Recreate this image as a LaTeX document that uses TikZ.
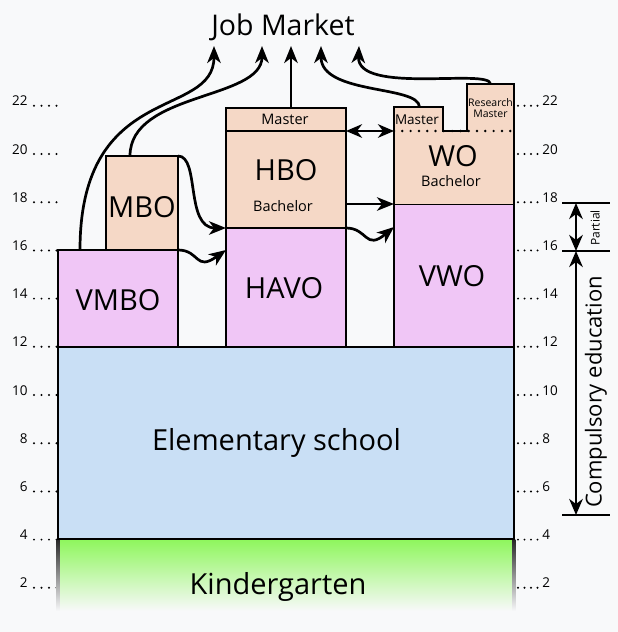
\documentclass[tikz,border=0pt]{standalone}
\usepackage{fontspec}
\setmainfont{Open Sans}
\usetikzlibrary{arrows.meta}
\definecolor{bg}{HTML}{F8F9FA}
\definecolor{peach}{HTML}{F5D8C6}
\definecolor{lilac}{HTML}{F0C6F6}
\definecolor{sky}{HTML}{C9DFF5}
\definecolor{kgreen}{HTML}{8EF65C}
\tikzset{
  box/.style={draw, line width=2.7pt, inner sep=0pt, outer sep=0pt},
  fillonly/.style={inner sep=0pt, outer sep=0pt},
  big/.style={font=\fontsize{29}{32}\selectfont},
  mid/.style={font=\fontsize{14.5}{16}\selectfont},
  arr/.style={-{Stealth[length=17pt,width=13.5pt,inset=5pt]}},
  darr/.style={{Stealth[length=16pt,width=13.5pt,inset=5pt]}-{Stealth[length=16pt,width=13.5pt,inset=5pt]}},
  tickdots/.style={line width=2.2pt, line cap=round, dash pattern=on 0pt off 7.5pt},
  tickdotsr/.style={line width=2.2pt, line cap=round, dash pattern=on 0pt off 6.5pt},
  ticknum/.style={font=\fontsize{13.5}{15}\selectfont, inner sep=0pt}
}
\begin{document}
\begin{tikzpicture}[x=1pt,y=-1pt,line width=2.7pt]
\fill[bg] (0,0) rectangle (618,632);
\useasboundingbox (0,0) rectangle (618,632);

% ticks
\foreach \a in {22,20,...,2}{
  \pgfmathsetmacro\yv{636-24.1*\a}
  \node[ticknum, anchor=base east] at (29,\yv) {\a};
  \draw[tickdots] (34,\yv) -- (57,\yv);
  \draw[tickdotsr] (518,\yv) -- (538,\yv);
  \node[ticknum, anchor=base west] at (541,\yv) {\a};
}

% kindergarten
\shade[top color=kgreen, bottom color=bg] (58,539) rectangle (514,611);
\shade[top color=black!85, bottom color=bg] (56.7,539) rectangle (59.3,611);
\shade[top color=black!85, bottom color=bg] (512.7,539) rectangle (515.3,611);
\node[big] (kg) at (278,587) {Kindergarten};

% elementary
\node[box, fill=sky, minimum width=456, minimum height=192] (elem) at (286,443) {};
\node[big] (elemt) at (276.5,443) {Elementary school};

% VMBO / MBO
\node[box, fill=lilac, minimum width=120, minimum height=97] (vmbo) at (118,298.5) {};
\node[big] (vmbot) at (118,300) {VMBO};
\node[box, fill=peach, minimum width=72, minimum height=94] (mbo) at (142,203) {};
\node[big] (mbot) at (142,207) {MBO};

% HAVO / HBO
\node[box, fill=lilac, minimum width=120, minimum height=119] (havo) at (286,287.5) {};
\node[big] (havot) at (284,288) {HAVO};
\node[box, fill=peach, minimum width=120, minimum height=97] (hbo) at (286,179.5) {};
\node[big] (hbot) at (286,170) {HBO};
\node[mid] (hbob) at (283,206) {Bachelor};
\node[box, fill=peach, minimum width=120, minimum height=23] (hboma) at (286,119.5) {};
\node[mid] (hbomat) at (285,119.5) {Master};

% VWO / WO
\node[box, fill=lilac, minimum width=120, minimum height=143] (vwo) at (454,275.5) {};
\node[big] (vwot) at (452,276) {VWO};
\node[fillonly, fill=peach, minimum width=120, minimum height=73] (wo) at (454,167.5) {};
\node[fillonly, fill=peach, minimum width=49, minimum height=24] (woma) at (418.5,119) {};
\node[fillonly, fill=peach, minimum width=47, minimum height=47] (wors) at (490.5,107.5) {};
\draw[line join=miter] (vwo.north west) -- (woma.north west) -- (woma.north east) -- (woma.south east)
  -- (wors.south west) -- (wors.north west) -- (wors.north east) -- (vwo.north east);
\draw[line width=2.7pt, line cap=round, dash pattern=on 0pt off 8.3pt] (wo.north west) -- (wo.north east);
\node[big] (wot) at (453,156) {WO};
\node[mid] (wob) at (451,181) {Bachelor};
\node[font=\fontsize{13.5}{15}\selectfont] (womat) at (417,119.5) {Master};
\node[font=\fontsize{10.5}{10.5}\selectfont, align=center, inner sep=0pt] (worst) at (490.5,108) {Research\\Master};

% Job market
\node[font=\fontsize{28.5}{32}\selectfont] (jm) at (283,27) {Job Market};
\coordinate (jm1) at (214,46);
\coordinate (jm2) at (262,46);
\coordinate (jm3) at (291,46);
\coordinate (jm4) at (321,46);
\coordinate (jm5) at (359,46);

\draw[arr] ([xshift=22pt]vmbo.north west) .. controls (80,80) and (214,120) .. (jm1);
\draw[arr] ([xshift=24pt]mbo.north west) .. controls (130,92) and (262,100) .. (jm2);
\draw[arr] (hboma.north -| jm3) -- (jm3);
\draw[arr] ([xshift=1pt]woma.north) .. controls (419,85) and (321,95) .. (jm4);
\draw[arr] (wors.north) .. controls (490,68) and (357,95) .. (jm5);

% cross arrows
\draw[arr] (mbo.north east) .. controls (200,156) and (185,228) .. (hbo.south west);
\draw[arr] (vmbo.north east) .. controls (200,250) and (195,272) .. ([yshift=-22pt]havo.north west);
\draw[arr] (hbo.east |- wo.south) -- (wo.south west);
\draw[arr] (havo.north east) .. controls (368,228) and (365,251) .. ([yshift=-23pt]vwo.north west);
\draw[darr] (hboma.south east) -- (wo.north west);

% right bracket
\coordinate (r18) at (576,203);
\coordinate (r16) at (576,251);
\coordinate (r5) at (576,515);
\draw (562,203) -- (610,203);
\draw (562,251) -- (610,251);
\draw (562,515) -- (610,515);
\draw[darr] (r18) -- (r16);
\draw[darr] (r16) -- (r5);
\node[rotate=90, font=\fontsize{12}{13}\selectfont] (part) at (595,228) {Partial};
\node[rotate=90, font=\fontsize{22}{24}\selectfont] (comp) at (596,392) {Compulsory education};
\end{tikzpicture}
\end{document}
